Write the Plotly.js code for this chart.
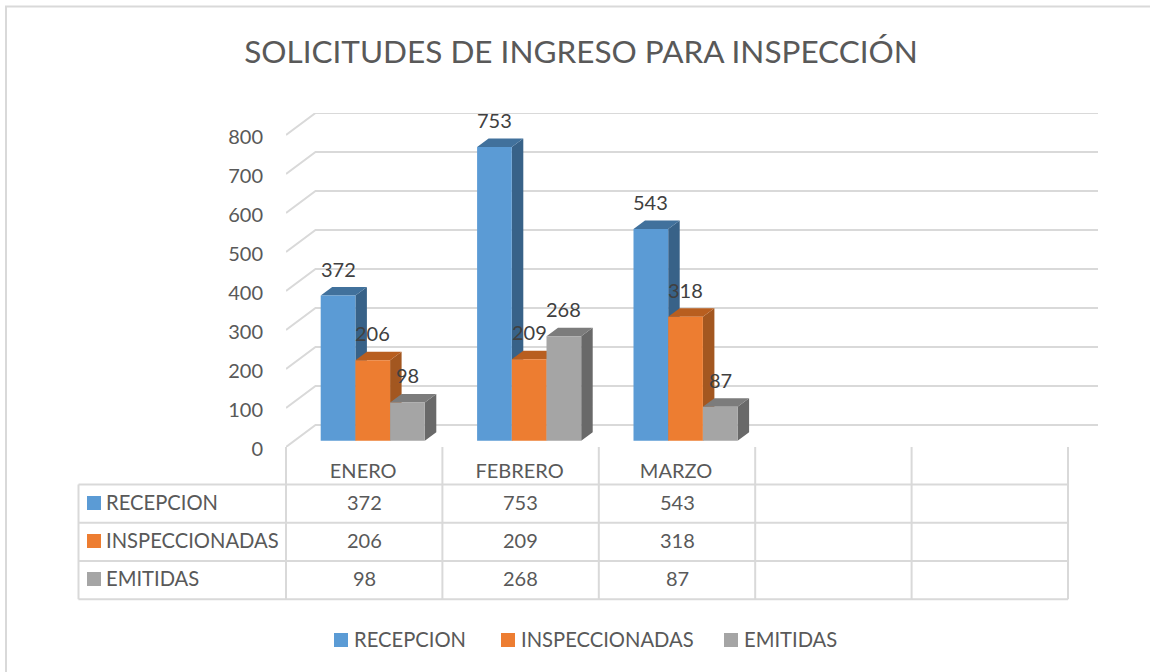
<!DOCTYPE html>
<html>
<head>
<meta charset="utf-8">
<script src="https://cdn.plot.ly/plotly-3.0.1.min.js"></script>
<style>html,body{margin:0;padding:0;background:#fff;overflow:hidden}</style>
</head>
<body>
<div id="chart" style="width:1150px;height:672px"></div>
<script>
const categories = ['ENERO', 'FEBRERO', 'MARZO'];
const recepcion = [372, 753, 543];
const inspeccionadas = [206, 209, 318];
const emitidas = [98, 268, 87];
const seriesNames = ['RECEPCION', 'INSPECCIONADAS', 'EMITIDAS'];
const yTicks = [0, 100, 200, 300, 400, 500, 600, 700, 800];

const seriesValues = [recepcion, inspeccionadas, emitidas];
const frontColors = ['#5B9BD5', '#ED7D31', '#A5A5A5'];
const sideColors = ['#386288', '#A35720', '#696969'];
const topColors = ['#41719C', '#B85E1F', '#7C7C7C'];
const FONT = 'Lato, "Open Sans", sans-serif';
const GRID = '#D9D9D9';

// Pixel geometry of the plot frame
const L = 286, R = 1098, T = 113, B = 447, W = 1150, H = 672;
const slotPx = 156.4, unitPx = 0.39;
const xMax = (R - L) / slotPx, yMax = (B - T) / unitPx;
const wallDx = 29.5 / slotPx, wallDy = 22 / unitPx;
const barW = 34.7 / slotPx, barStart = 34.7 / slotPx;
const barBase = 6.3 / unitPx, depthX = 11.5 / slotPx, depthY = 8.5 / unitPx;
const px = x => (x - L) / (R - L);
const py = y => (B - y) / (B - T);

const traces = [];

// Back wall and side wall gridlines
const gx = [], gy = [];
yTicks.forEach(v => {
  gx.push(0, wallDx, xMax, null);
  gy.push(v, v + wallDy, v + wallDy, null);
});
traces.push({type: 'scatter', mode: 'lines', x: gx, y: gy, cliponaxis: false,
  line: {color: GRID, width: 2}, showlegend: false, hoverinfo: 'skip'});

// Side and top faces of the bars, behind the front faces
seriesValues.forEach((vals, s) => {
  const sx = [], sy = [], tx = [], ty = [];
  vals.forEach((v, i) => {
    const a = i + barStart + s * barW, b = a + barW, top = v + barBase;
    sx.push(b, b + depthX, b + depthX, b, b, null);
    sy.push(barBase, barBase + depthY, top + depthY, top, barBase, null);
    tx.push(a, b, b + depthX, a + depthX, a, null);
    ty.push(top, top, top + depthY, top + depthY, top, null);
  });
  traces.push({type: 'scatter', mode: 'lines', x: sx, y: sy, fill: 'toself', fillcolor: sideColors[s],
    line: {width: 0, color: sideColors[s]}, showlegend: false, hoverinfo: 'skip', cliponaxis: false});
  traces.push({type: 'scatter', mode: 'lines', x: tx, y: ty, fill: 'toself', fillcolor: topColors[s],
    line: {width: 0, color: topColors[s]}, showlegend: false, hoverinfo: 'skip', cliponaxis: false});
});

// Front faces: real bars on an overlaying subplot
seriesValues.forEach((vals, s) => {
  traces.push({type: 'bar', name: seriesNames[s], xaxis: 'x2', yaxis: 'y2', showlegend: false,
    x: categories.map((c, i) => i + 0.5), y: vals, base: barBase,
    width: barW, offset: barStart - 0.5 + s * barW,
    marker: {color: frontColors[s]}, cliponaxis: false,
    customdata: categories, hovertemplate: '%{customdata}: %{y}<extra>' + seriesNames[s] + '</extra>'});
});

const annotations = [];
const note = (text, x, y, opts) => annotations.push(Object.assign({
  text, x, y, xref: 'paper', yref: 'paper', showarrow: false, xanchor: 'center', yanchor: 'middle',
  font: {family: FONT, size: 20, color: '#595959'}
}, opts || {}));
const nameFont = {family: FONT, size: 20.2, color: '#595959'};

// Data labels
seriesValues.forEach((vals, s) => vals.forEach((v, i) => {
  annotations.push({text: String(v), xref: 'x2', yref: 'y2', showarrow: false,
    x: i + barStart + s * barW + barW / 2, y: v + barBase, yshift: 27,
    xanchor: 'center', yanchor: 'middle', font: {family: FONT, size: 20, color: '#404040'}});
}));

// Data table
const rowCenters = [502, 540, 578];
const keyCenters = [503, 541, 579];
const shapes = [];
const line = (x0, y0, x1, y1) => shapes.push({type: 'line', xref: 'paper', yref: 'paper', layer: 'below',
  x0: px(x0), y0: py(y0), x1: px(x1), y1: py(y1), line: {color: GRID, width: 2}});
[484.5, 522.7, 561, 599.3].forEach(y => line(78.5, y, 1068, y));
line(78.5, 484.5, 78.5, 599.3);
for (let i = 0; i <= 5; i++) line(L + i * slotPx, B, L + i * slotPx, 599.3);

const swatch = (x, cy, color) => shapes.push({type: 'rect', xref: 'paper', yref: 'paper',
  x0: px(x), x1: px(x + 14), y0: py(cy - 7), y1: py(cy + 7), fillcolor: color, line: {width: 0}});

seriesNames.forEach((name, s) => {
  swatch(87, keyCenters[s], frontColors[s]);
  note(name, px(104), py(rowCenters[s]), {xanchor: 'left', font: nameFont});
  seriesValues[s].forEach((v, i) => note(String(v), px(L + (i + 0.5) * slotPx), py(rowCenters[s])));
});

// Legend
const legendSwatchX = [334, 501, 724];
const legendTextX = [352, 519, 742];
seriesNames.forEach((name, s) => {
  swatch(legendSwatchX[s], 640, frontColors[s]);
  note(name, px(legendTextX[s]), py(639), {xanchor: 'left', font: nameFont});
});

// Chart frame (its right and bottom edges run past the picture)
shapes.push({type: 'rect', xref: 'paper', yref: 'paper', layer: 'below',
  x0: px(6), x1: px(1170), y0: py(6.5), y1: py(700), fillcolor: 'rgba(0,0,0,0)', line: {color: GRID, width: 2}});

const layout = {
  width: W, height: H, autosize: false,
  margin: {l: L, r: W - R, t: T, b: H - B, pad: 0},
  paper_bgcolor: '#FFFFFF', plot_bgcolor: 'rgba(0,0,0,0)',
  font: {family: FONT, size: 20, color: '#595959'},
  showlegend: false,
  title: {text: 'SOLICITUDES DE INGRESO PARA INSPECCIÓN', x: 581 / W, xanchor: 'center',
    y: 1 - 52 / H, yanchor: 'middle', font: {family: FONT, size: 31.5, color: '#595959'}},
  barmode: 'overlay',
  xaxis: {range: [0, xMax], tickmode: 'array', tickvals: categories.map((c, i) => i + 0.5), ticktext: categories,
    showgrid: false, zeroline: false, showline: false, ticks: '', ticklabelstandoff: 10, ticklabelshift: -1,
    tickfont: {family: FONT, size: 20, color: '#595959'}, fixedrange: true},
  yaxis: {range: [0, yMax], tickmode: 'array', tickvals: yTicks, showgrid: false, zeroline: false,
    showline: false, ticks: '', ticklabelstandoff: 22, ticklabelshift: 2,
    tickfont: {family: FONT, size: 20, color: '#595959'}, fixedrange: true},
  xaxis2: {range: [0, xMax], overlaying: 'x', visible: false, fixedrange: true},
  yaxis2: {range: [0, yMax], overlaying: 'y', visible: false, fixedrange: true},
  shapes, annotations
};

Plotly.newPlot('chart', traces, layout, {displayModeBar: false, responsive: false});
</script>
</body>
</html>
